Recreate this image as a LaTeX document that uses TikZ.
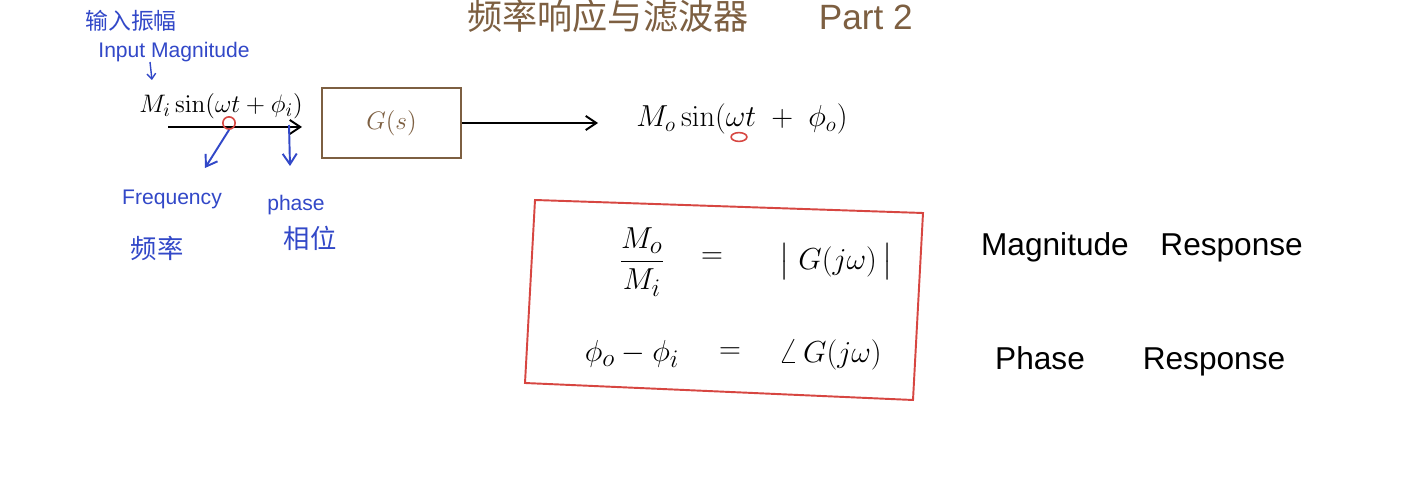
\documentclass[tikz,border=0pt]{standalone}
\usepackage{amsmath}
\usepackage[no-math]{fontspec}
\setmainfont{Liberation Sans}
\newfontfamily\cjk{Noto Sans CJK SC}
\usetikzlibrary{arrows.meta,shapes.geometric}
\definecolor{inkblue}{RGB}{50,72,200}
\definecolor{inkbrown}{RGB}{125,95,65}
\definecolor{inkred}{RGB}{215,70,65}
\begin{document}
\begin{tikzpicture}[x=0.02cm,y=-0.02cm,
  every node/.style={inner sep=0pt},
  ink/.style={line width=1.1pt},
  arr/.style={ink,-{Straight Barb[length=6pt,width=8pt]}},
  blue/.style={text=inkblue},
  bluearr/.style={arr,draw=inkblue},
  redmark/.style={draw=inkred,line width=0.9pt}]
\useasboundingbox (0,0) rectangle (1403,479);
\fill[white] (0,0) rectangle (1403,479);
% title
\node[text=inkbrown,font=\fontsize{20}{24}\selectfont] (title) at (690,16) {{\cjk 频率响应与滤波器}\qquad Part 2};
% blue annotations top
\node[blue,font=\cjk\fontsize{13}{15}\selectfont] (zhmag) at (131,21) {输入振幅};
\node[blue,font=\fontsize{12}{14}\selectfont] (enmag) at (174,52) {Input Magnitude};
\coordinate (magA) at (150,62);
\coordinate (magB) at (152,80);
\draw[bluearr,line width=0.8pt,-{Straight Barb[length=3pt,width=5pt]}] (magA) -- (magB);
% input signal
\node[font=\fontsize{15}{18}\selectfont] (input) at (221,106) {$M_i\sin(\omega t+\phi_i)$};
\coordinate (inL) at (168,127);
\coordinate (inR) at (302,127);
\draw[arr] (inL) -- (inR);
\node[redmark,circle,minimum size=7pt] (freqmark) at (229,123) {};
\coordinate (phmark) at (289,125);
\coordinate (freqEnd) at (205,168);
\coordinate (phEnd) at (290,166);
\draw[bluearr] (freqmark.south) -- (freqEnd);
\draw[bluearr] (phmark) -- (phEnd);
\node[blue,font=\fontsize{12}{14}\selectfont] (freq) at (172,199) {Frequency};
\node[blue,font=\cjk\fontsize{15}{18}\selectfont] (zhfreq) at (157,248) {频率};
\node[blue,font=\fontsize{12}{14}\selectfont] (phase) at (296,205) {phase};
\node[blue,font=\cjk\fontsize{15}{18}\selectfont] (zhphase) at (310,238) {相位};
% block
\node[draw=inkbrown,ink,minimum width=2.78cm,minimum height=1.4cm,text=inkbrown,font=\fontsize{15}{18}\selectfont] (G) at (391.5,123) {$G(s)$};
\coordinate (outR) at (598,123);
\draw[arr] (G.east) -- (outR);
\node[font=\fontsize{17}{20}\selectfont] (output) at (742,119) {$M_o\sin(\omega t\;+\;\phi_o)$};
\node[redmark,ellipse,minimum width=9pt,minimum height=5pt,inner sep=0pt] (outmark) at (739,137) {};
% response box
\coordinate (b1) at (535,200);
\coordinate (b2) at (923,213);
\coordinate (b3) at (913,400);
\coordinate (b4) at (525,383);
\draw[draw=inkred,line width=1.1pt] (b1) -- (b2) -- (b3) -- (b4) -- cycle;
\node[font=\fontsize{19}{22}\selectfont] (frac) at (642,262) {$\dfrac{M_o}{M_i}$};
\node[font=\fontsize{19}{22}\selectfont] (eq1) at (712,258) {$=$};
\node[font=\fontsize{19}{22}\selectfont] (absG) at (836,262) {$\big|\;G(j\omega)\,\big|$};
\node[font=\fontsize{19}{22}\selectfont] (phdiff) at (632,354) {$\phi_o-\phi_i$};
\node[font=\fontsize{19}{22}\selectfont] (eq2) at (730,353) {$=$};
\node[font=\fontsize{19}{22}\selectfont] (angG) at (830,355) {$\angle\, G(j\omega)$};
% labels right
\node[font=\fontsize{18}{22}\selectfont] (magresp) at (1142,247) {Magnitude\quad Response};
\node[font=\fontsize{18}{22}\selectfont,anchor=base] (phresp1) at (1040,370) {Phase};
\node[font=\fontsize{18}{22}\selectfont,anchor=base] (phresp2) at (1214,370) {Response};
\end{tikzpicture}
\end{document}
